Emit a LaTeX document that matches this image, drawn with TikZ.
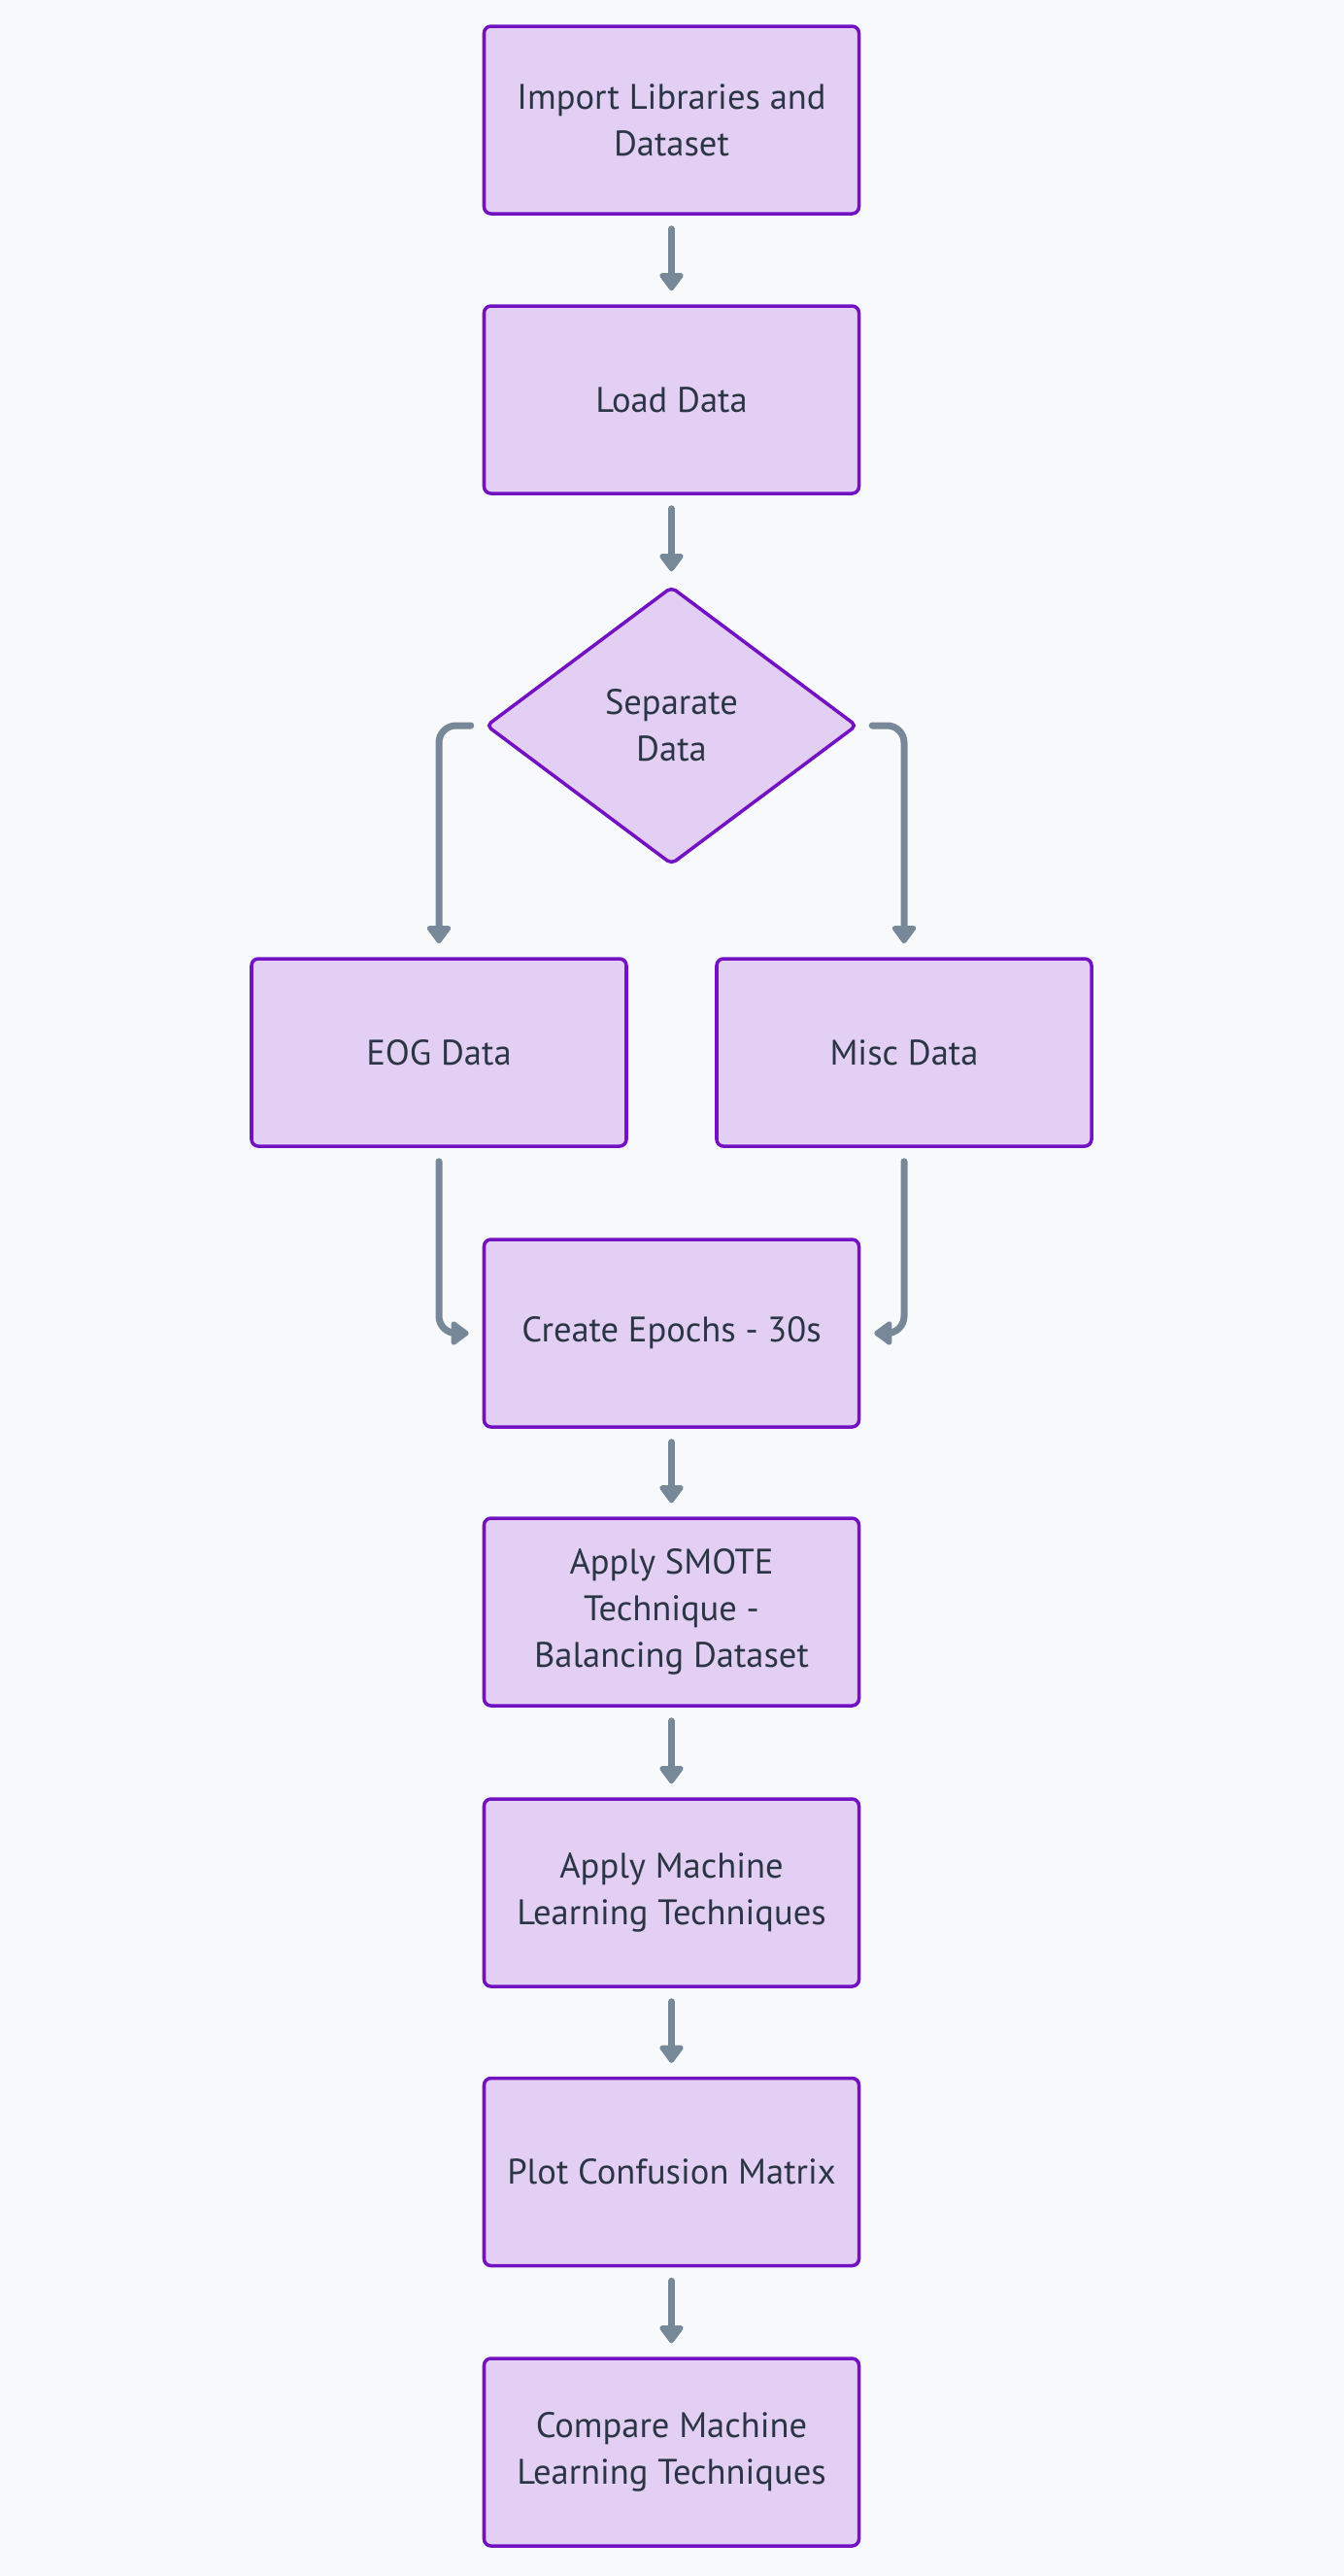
\documentclass[tikz,border=0pt]{standalone}
\usepackage{fontspec}
\setmainfont{PT Sans}
\usetikzlibrary{shapes.geometric,arrows.meta}

\definecolor{paper}{HTML}{F8F9FA}
\definecolor{stepfill}{HTML}{E3CFF3}
\definecolor{stepline}{HTML}{7212C2}
\definecolor{steptext}{HTML}{2B3645}
\definecolor{flowcol}{HTML}{778899}

\begin{document}
\begin{tikzpicture}[
  stepbox/.style={draw=stepline, fill=stepfill, line width=2pt, rounded corners=4pt,
    minimum width=7.72cm, minimum height=3.86cm, align=center, text=steptext,
    font=\fontsize{20.8}{27.5}\selectfont},
  decision/.style={diamond, draw=stepline, fill=stepfill, line width=2pt, rounded corners=3pt,
    minimum width=7.64cm, minimum height=5.72cm, inner sep=0pt, align=center, text=steptext,
    font=\fontsize{20.8}{27.5}\selectfont},
  flow/.style={draw=flowcol, line width=0.14cm, line cap=round, rounded corners=0.35cm,
    -{Triangle[width=0.56cm,length=0.4cm,round]},
    shorten <=0.28cm, shorten >=0.28cm}
]
% Define dimensions
\def\mx{13.83}   % main column
\def\lx{9.04}    % left branch
\def\rx{18.62}   % right branch

% Background
\fill[paper] (0,0) rectangle (27.68,-53.04);

% Steps
\node[stepbox] (import)  at (\mx,-2.47)  {Import Libraries and\\Dataset};
\node[stepbox] (load)    at (\mx,-8.23)  {Load Data};
\node[decision] (sep)    at (\mx,-14.94) {Separate\\Data};
\node[stepbox] (eog)     at (\lx,-21.67) {EOG Data};
\node[stepbox] (misc)    at (\rx,-21.67) {Misc Data};
\node[stepbox] (epochs)  at (\mx,-27.45) {Create Epochs - 30s};
\node[stepbox] (smote)   at (\mx,-33.19) {Apply SMOTE\\Technique -\\Balancing Dataset};
\node[stepbox] (ml)      at (\mx,-38.97) {Apply Machine\\Learning Techniques};
\node[stepbox] (confmat) at (\mx,-44.72) {Plot Confusion Matrix};
\node[stepbox] (compare) at (\mx,-50.49) {Compare Machine\\Learning Techniques};

% Connectors
\draw[flow] (import) -- (load);
\draw[flow] (load) -- (sep);
\draw[flow] (sep.west) -| (eog.north);
\draw[flow] (sep.east) -| (misc.north);
\draw[flow] (eog.south) |- (epochs.west);
\draw[flow] (misc.south) |- (epochs.east);
\draw[flow] (epochs) -- (smote);
\draw[flow] (smote) -- (ml);
\draw[flow] (ml) -- (confmat);
\draw[flow] (confmat) -- (compare);

\end{tikzpicture}
\end{document}
